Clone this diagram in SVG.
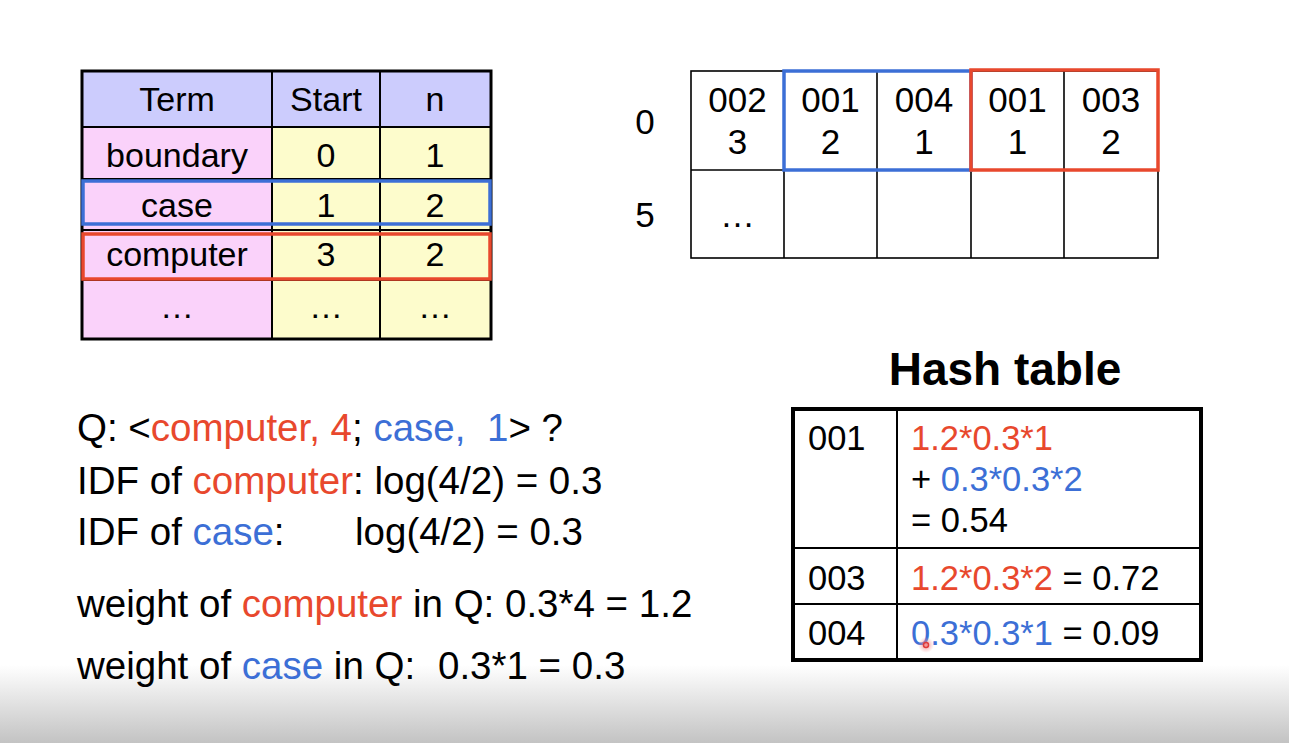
<svg xmlns="http://www.w3.org/2000/svg" width="1289" height="743" viewBox="0 0 1289 743">
  <defs>
    <linearGradient id="shade" x1="0" y1="0" x2="0" y2="1">
      <stop offset="0" stop-color="#ffffff"/>
      <stop offset="1" stop-color="#c3c3c3"/>
    </linearGradient>
    <radialGradient id="glow">
      <stop offset="0" stop-color="#f07a7a" stop-opacity="0.9"/>
      <stop offset="1" stop-color="#f6a0a0" stop-opacity="0"/>
    </radialGradient>
  </defs>
  <style>
    text { font-family: "Liberation Sans", Arial, sans-serif; fill: #000; }
    .t34 { font-size: 34px; }
    .t35 { font-size: 35px; }
    .th { font-size: 34.5px; }
    .mid { text-anchor: middle; }
    .body { font-size: 38.5px; }
    .title { font-size: 46px; font-weight: bold; }
    .red { fill: #e8482d; }
    .blue { fill: #3c6fd6; }
    .grid { fill: none; stroke: #000; stroke-width: 1.6; }
    .hl-blue { fill: none; stroke: #3c6fd6; stroke-width: 3.5; }
    .hl-red { fill: none; stroke: #e8482d; stroke-width: 3.5; }
  </style>

  <rect x="0" y="0" width="1289" height="743" fill="#ffffff"/>
  <!-- soft grey band along the bottom edge -->
  <rect x="0" y="665" width="1289" height="78" fill="url(#shade)"/>

  <!-- lexicon: term / start / n -->
  <g id="lexicon">
    <rect x="82" y="71" width="409" height="56" fill="#ccccfd"/>
    <rect x="82" y="127" width="190" height="212" fill="#fad2fa"/>
    <rect x="272" y="127" width="219" height="212" fill="#fdfccc"/>
    <g stroke="#000" stroke-width="2">
      <line x1="272" y1="71" x2="272" y2="339"/>
      <line x1="380" y1="71" x2="380" y2="339"/>
      <line x1="82" y1="127" x2="491" y2="127"/>
      <line x1="82" y1="179" x2="491" y2="179"/>
      <line x1="82" y1="230" x2="491" y2="230"/>
      <line x1="82" y1="280" x2="491" y2="280"/>
    </g>
    <rect x="82" y="71" width="409" height="268" fill="none" stroke="#000" stroke-width="3"/>
    <rect class="hl-blue" x="83" y="181" width="407" height="43"/>
    <rect class="hl-red" x="83" y="234" width="407" height="45"/>
    <g class="t34 mid">
      <text x="177" y="111">Term</text>
      <text x="326" y="111">Start</text>
      <text x="435" y="111">n</text>
      <text x="177" y="167">boundary</text>
      <text x="326" y="167">0</text>
      <text x="435" y="167">1</text>
      <text x="177" y="217">case</text>
      <text x="326" y="217">1</text>
      <text x="435" y="217">2</text>
      <text x="177" y="266">computer</text>
      <text x="326" y="266">3</text>
      <text x="435" y="266">2</text>
      <text x="177" y="318">…</text>
      <text x="326" y="318">…</text>
      <text x="435" y="318">…</text>
    </g>
  </g>

  <!-- postings array -->
  <g id="postings">
    <rect class="grid" x="691" y="71" width="467" height="187"/>
    <g stroke="#000" stroke-width="1.6">
      <line x1="784" y1="71" x2="784" y2="258"/>
      <line x1="877" y1="71" x2="877" y2="258"/>
      <line x1="971" y1="71" x2="971" y2="258"/>
      <line x1="1064" y1="71" x2="1064" y2="258"/>
      <line x1="691" y1="170" x2="1158" y2="170"/>
    </g>
    <rect class="hl-blue" x="784" y="71" width="187" height="99" stroke-width="3"/>
    <rect class="hl-red" x="971" y="70" width="187" height="100" stroke-width="3"/>
    <g class="t35 mid">
      <text x="645" y="134">0</text>
      <text x="645" y="227">5</text>
      <text x="737.5" y="112">002</text>
      <text x="737.5" y="154">3</text>
      <text x="830.5" y="112">001</text>
      <text x="830.5" y="154">2</text>
      <text x="924" y="112">004</text>
      <text x="924" y="154">1</text>
      <text x="1017.5" y="112">001</text>
      <text x="1017.5" y="154">1</text>
      <text x="1111" y="112">003</text>
      <text x="1111" y="154">2</text>
      <text x="737.5" y="227">…</text>
    </g>
  </g>

  <!-- query and weights -->
  <g id="query">
    <text class="body" x="77" y="441">Q: &lt;<tspan class="red">computer, 4</tspan>; <tspan class="blue">case,</tspan><tspan class="blue" x="487">1</tspan>&gt; ?</text>
    <text class="body" x="77" y="494">IDF of <tspan class="red">computer</tspan>: log(4/2) = 0.3</text>
    <text class="body" x="77" y="545">IDF of <tspan class="blue">case</tspan>:<tspan x="355">log(4/2) = 0.3</tspan></text>
    <text class="body" x="77" y="617">weight of <tspan class="red">computer</tspan> in Q: 0.3*4 = 1.2</text>
    <text class="body" x="77" y="679">weight of <tspan class="blue">case</tspan> in Q:<tspan x="438">0.3*1 = 0.3</tspan></text>
  </g>

  <!-- accumulator hash table -->
  <g id="hash-table">
    <text class="title mid" x="1005" y="385">Hash table</text>
    <g stroke="#000" stroke-width="2">
      <line x1="897" y1="409" x2="897" y2="660"/>
      <line x1="793" y1="548" x2="1201" y2="548"/>
      <line x1="793" y1="604" x2="1201" y2="604"/>
    </g>
    <rect x="793" y="409" width="408" height="251" fill="none" stroke="#000" stroke-width="4"/>
    <g class="th">
      <text x="808" y="450">001</text>
      <text x="911" y="450" class="red">1.2*0.3*1</text>
      <text x="911" y="491">+ <tspan class="blue">0.3*0.3*2</tspan></text>
      <text x="911" y="532">= 0.54</text>
      <text x="808" y="590">003</text>
      <text x="911" y="590"><tspan class="red">1.2*0.3*2</tspan> = 0.72</text>
      <text x="808" y="645">004</text>
      <text x="911" y="645"><tspan class="blue">0.3*0.3*1</tspan> = 0.09</text>
    </g>
    <!-- pointer mark -->
    <circle cx="926" cy="645" r="8" fill="url(#glow)"/>
    <circle cx="926" cy="645" r="2.5" fill="none" stroke="#e03a3a" stroke-width="1.5"/>
  </g>
</svg>
